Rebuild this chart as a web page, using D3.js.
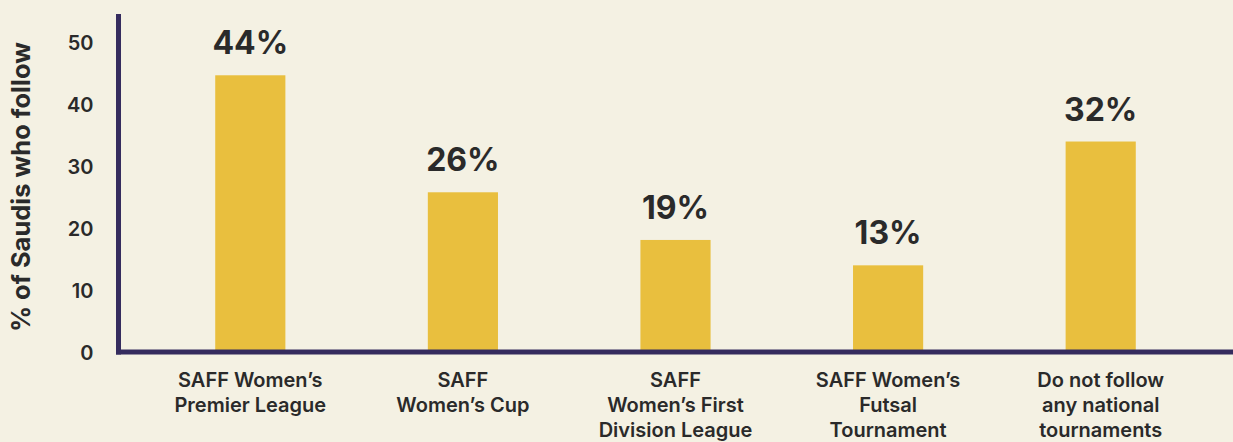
<!DOCTYPE html>
<html lang="en">
<head>
	<meta charset="UTF-8">
	<title>Saudi women's football tournaments</title>
	<script src="https://cdn.jsdelivr.net/npm/d3@7"></script>
	<style>
		*{
			margin: 0px;
			box-sizing: border-box;
		}
		html,body{
			width:1233px;
			height:442px;
			overflow: hidden;
			background:#f4f1e3;
		}
		text{
			font-family: Inter, "Open Sans", sans-serif;
			fill:#2a2a2a;
		}
		.yAxis text{
			font-size: 20px;
			font-weight: 600;
		}
		.xAxis text{
			font-size: 20px;
			font-weight: 600;
		}
		.value{
			font-size: 32px;
			font-weight: 700;
		}
		.yTitle{
			font-size: 25.5px;
			font-weight: 700;
		}
	</style>
</head>
<body>
	<svg id="svg"></svg>
	<script>
		// data
		var categories = [
			["SAFF Women\u2019s", "Premier League"],
			["SAFF", "Women\u2019s Cup"],
			["SAFF", "Women\u2019s First", "Division League"],
			["SAFF Women\u2019s", "Futsal", "Tournament"],
			["Do not follow", "any national", "tournaments"]
		];
		var barValues = [44.7, 25.8, 18.1, 14.0, 34.0];
		var valueLabels = ["44%", "26%", "19%", "13%", "32%"];
		var yTicks = [0, 10, 20, 30, 40, 50];
		var yTitle = "% of Saudis who follow";

		var w = 1233,
			h = 442,
			axisColor = "#352c5e",
			barColor = "#e9bf3e",
			svg = d3.select("#svg").attr("width", w).attr("height", h);

		var y = d3.scaleLinear()
			.domain([0, 54.6])
			.range([352, 14]);

		var x = d3.scaleBand()
			.domain(d3.range(categories.length))
			.range([144, 1207])
			.paddingInner(0.67)
			.paddingOuter(0.335);

		// bars
		svg.append("g")
			.selectAll("rect")
			.data(barValues)
			.enter().append("rect")
			.attr("x", function(d, i) { return x(i); })
			.attr("width", x.bandwidth())
			.attr("y", function(d) { return y(d); })
			.attr("height", function(d) { return y(0) - y(d); })
			.attr("fill", barColor);

		// value labels
		svg.append("g")
			.selectAll("text")
			.data(barValues)
			.enter().append("text")
			.attr("class", "value")
			.attr("text-anchor", "middle")
			.attr("x", function(d, i) { return x(i) + x.bandwidth() / 2; })
			.attr("y", function(d) { return y(d) - 21; })
			.text(function(d, i) { return valueLabels[i]; });

		// x axis
		var gx = svg.append("g")
			.attr("class", "xAxis")
			.attr("transform", "translate(0," + y(0) + ")")
			.call(d3.axisBottom(x).tickSize(0).tickFormat(""));
		gx.select(".domain").remove();
		gx.append("line")
			.attr("x1", 116).attr("x2", w)
			.attr("stroke", axisColor)
			.attr("stroke-width", 5);
		gx.selectAll(".tick text").each(function(d) {
			var t = d3.select(this).attr("y", 0).attr("dy", null);
			categories[d].forEach(function(line, k) {
				t.append("tspan")
					.attr("x", 0)
					.attr("y", 35 + k * 25)
					.text(line);
			});
		});

		// y axis
		var gy = svg.append("g")
			.attr("class", "yAxis")
			.attr("transform", "translate(118.5,0)")
			.call(d3.axisLeft(y).tickValues(yTicks).tickSize(0).tickPadding(25));
		gy.select(".domain").remove();
		gy.append("line")
			.attr("y1", 14).attr("y2", y(0) + 2.5)
			.attr("stroke", axisColor)
			.attr("stroke-width", 5);
		gy.selectAll(".tick text").attr("dy", "0.36em");

		svg.append("text")
			.attr("class", "yTitle")
			.attr("text-anchor", "middle")
			.attr("transform", "translate(30,187) rotate(-90)")
			.text(yTitle);
	</script>
</body>
</html>
